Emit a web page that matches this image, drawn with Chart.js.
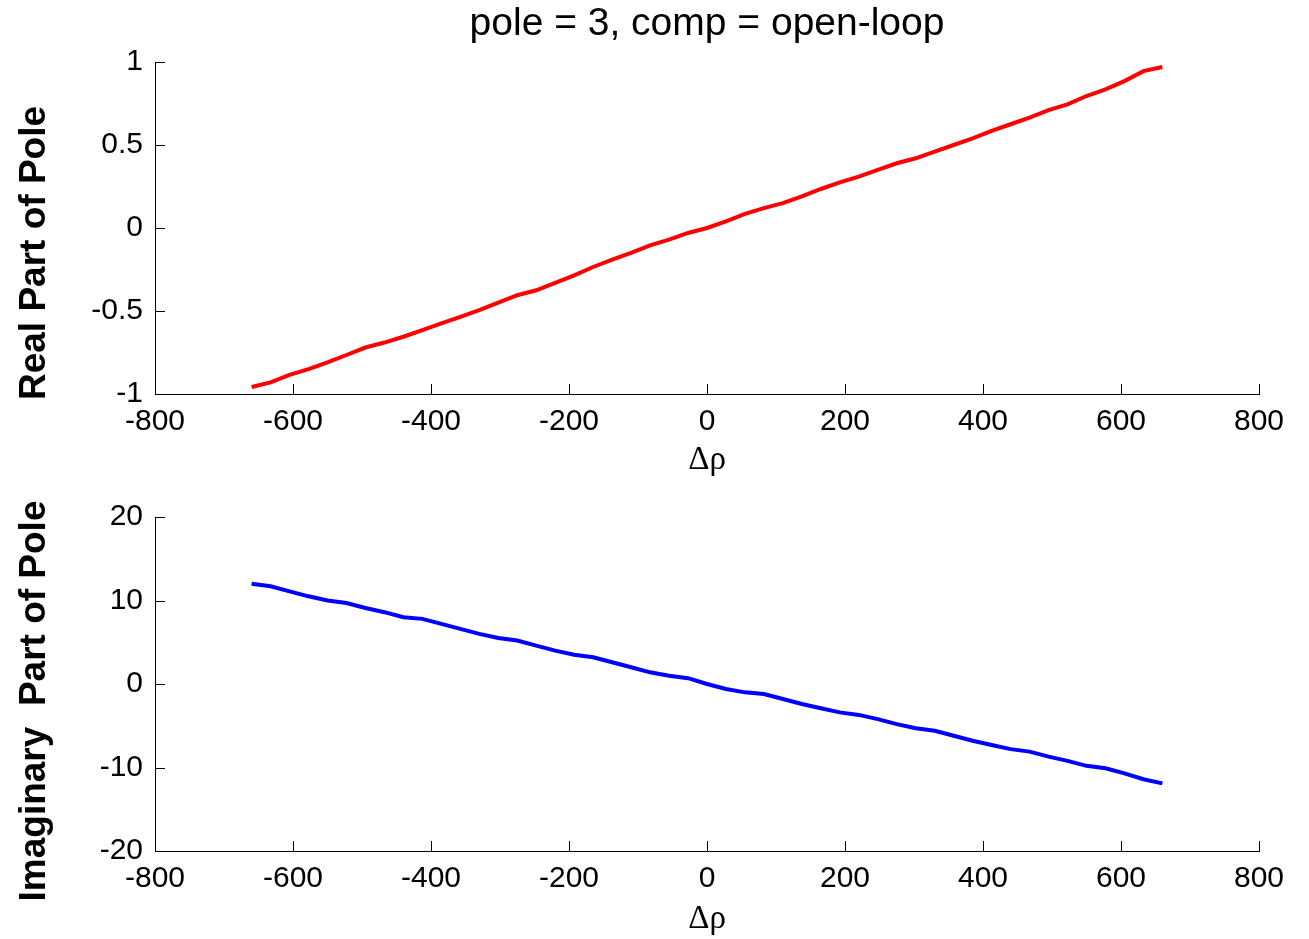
<!DOCTYPE html>
<html>
<head>
<meta charset="utf-8">
<script src="https://cdn.jsdelivr.net/npm/chart.js@4.4.1/dist/chart.umd.min.js"></script>
<style>
  html, body { margin: 0; padding: 0; background: #fff; }
  #poleReal { position: absolute; left: 0; top: 0; }
  #poleImag { position: absolute; left: 0; top: 480px; }
</style>
</head>
<body>
<canvas id="poleReal" width="1309" height="480"></canvas>
<canvas id="poleImag" width="1309" height="459"></canvas>
<script>
// Δρ sweep and the two parts of pole 3 (open-loop)
const dRho = [-660, -632.5, -605, -577.5, -550, -522.5, -495, -467.5, -440, -412.5, -385, -357.5,
  -330, -302.5, -275, -247.5, -220, -192.5, -165, -137.5, -110, -82.5, -55, -27.5, 0,
  27.5, 55, 82.5, 110, 137.5, 165, 192.5, 220, 247.5, 275, 302.5, 330, 357.5, 385, 412.5,
  440, 467.5, 495, 522.5, 550, 577.5, 605, 632.5, 660];
const realPart = [-0.958, -0.93, -0.885, -0.85, -0.81, -0.765, -0.72, -0.69, -0.655, -0.615, -0.575, -0.535,
  -0.495, -0.45, -0.405, -0.375, -0.33, -0.285, -0.235, -0.19, -0.15, -0.105, -0.07, -0.03, 0,
  0.04, 0.085, 0.12, 0.15, 0.19, 0.235, 0.275, 0.31, 0.35, 0.39, 0.42, 0.46, 0.5, 0.54, 0.585,
  0.625, 0.665, 0.71, 0.745, 0.795, 0.835, 0.885, 0.945, 0.97];
const imagPart = [12.0, 11.7, 11.1, 10.5, 10.0, 9.7, 9.1, 8.6, 8.0, 7.8, 7.2, 6.6,
  6.0, 5.5, 5.2, 4.6, 4.0, 3.5, 3.2, 2.6, 2.0, 1.4, 1.0, 0.7, 0.0,
  -0.6, -1.0, -1.2, -1.8, -2.4, -2.9, -3.4, -3.7, -4.2, -4.8, -5.3, -5.6, -6.2, -6.8, -7.3,
  -7.8, -8.1, -8.7, -9.2, -9.8, -10.1, -10.7, -11.4, -11.9];

const xTicks = [-800, -600, -400, -200, 0, 200, 400, 600, 800];
const realTicks = [-1, -0.5, 0, 0.5, 1];
const imagTicks = [-20, -10, 0, 10, 20];

const titulo = 'pole = 3, comp = open-loop';
const rotuloReal = 'Real Part of Pole';
const rotuloImag = 'Imaginary  Part of Pole';
const rotuloX = 'Δρ';

const sans = '"Liberation Sans", Arial, Helvetica, sans-serif';

/* tracinhos para dentro, estilo MATLAB */
const ticksDentro = {
  id: 'ticksDentro',
  beforeDatasetsDraw(chart) {
    const { ctx, chartArea: a, scales } = chart;
    ctx.save();
    ctx.strokeStyle = '#000';
    ctx.lineWidth = 1;
    ctx.beginPath();
    scales.x.ticks.forEach(t => {
      const px = Math.round(scales.x.getPixelForValue(t.value)) + 0.5;
      ctx.moveTo(px, a.bottom);
      ctx.lineTo(px, a.bottom - 10);
    });
    scales.y.ticks.forEach(t => {
      const py = Math.round(scales.y.getPixelForValue(t.value)) + 0.5;
      ctx.moveTo(a.left, py);
      ctx.lineTo(a.left + 10, py);
    });
    ctx.stroke();
    ctx.restore();
  }
};

/* rótulo vertical do eixo y */
const rotuloLateral = {
  id: 'rotuloLateral',
  afterDraw(chart, args, opts) {
    const ctx = chart.ctx;
    ctx.save();
    ctx.translate(opts.x, opts.y);
    ctx.rotate(-Math.PI / 2);
    ctx.font = 'bold 37px ' + sans;
    ctx.fillStyle = '#000';
    ctx.textAlign = 'center';
    ctx.textBaseline = 'middle';
    ctx.fillText(opts.text, 0, 0);
    ctx.restore();
  }
};

function painel(id, valores, cor, yTicks, extra) {
  return new Chart(document.getElementById(id), {
    type: 'line',
    data: {
      datasets: [{
        data: dRho.map((x, i) => ({ x, y: valores[i] })),
        borderColor: cor,
        borderWidth: 4,
        pointRadius: 0,
        tension: 0
      }]
    },
    options: {
      responsive: false,
      animation: false,
      devicePixelRatio: 1,
      layout: { padding: { left: 0, right: 50, top: extra.top, bottom: 0 } },
      plugins: {
        legend: { display: false },
        tooltip: { enabled: false },
        title: extra.title,
        rotuloLateral: { text: extra.yLabel, x: 35, y: extra.yLabelAt }
      },
      scales: {
        x: {
          type: 'linear',
          min: xTicks[0], max: xTicks[xTicks.length - 1],
          afterBuildTicks: s => { s.ticks = xTicks.map(v => ({ value: v })); },
          afterFit: s => { s.height = extra.xHeight; },
          grid: { display: false, drawTicks: false },
          border: { display: true, color: '#000', width: 1 },
          ticks: { color: '#000', padding: 10, maxRotation: 0, font: { family: sans, size: 30 },
                   callback: v => String(v) },
          title: {
            display: true, text: rotuloX, color: '#000',
            font: { family: '"Liberation Serif", "Times New Roman", serif', size: 33 },
            padding: { top: 0, bottom: 0 }
          }
        },
        y: {
          min: yTicks[0], max: yTicks[yTicks.length - 1],
          afterBuildTicks: s => { s.ticks = yTicks.map(v => ({ value: v })); },
          afterFit: s => { s.width = 155; },
          grid: { display: false, drawTicks: false },
          border: { display: true, color: '#000', width: 1 },
          ticks: { color: '#000', padding: 12, font: { family: sans, size: 30 },
                   callback: v => String(v) }
        }
      }
    },
    plugins: [ticksDentro, rotuloLateral]
  });
}

painel('poleReal', realPart, '#ff0000', realTicks, {
  top: 0,
  xHeight: 86,
  yLabel: rotuloReal,
  yLabelAt: 253,
  title: {
    display: true, fullSize: false, text: titulo, color: '#000',
    font: { family: sans, size: 39, weight: 'normal', lineHeight: 1.2 },
    padding: { top: 1, bottom: 14.2 }
  }
});

painel('poleImag', imagPart, '#0000ff', imagTicks, {
  top: 37,
  xHeight: 88,
  yLabel: rotuloImag,
  yLabelAt: 221,
  title: { display: false }
});
</script>
</body>
</html>
